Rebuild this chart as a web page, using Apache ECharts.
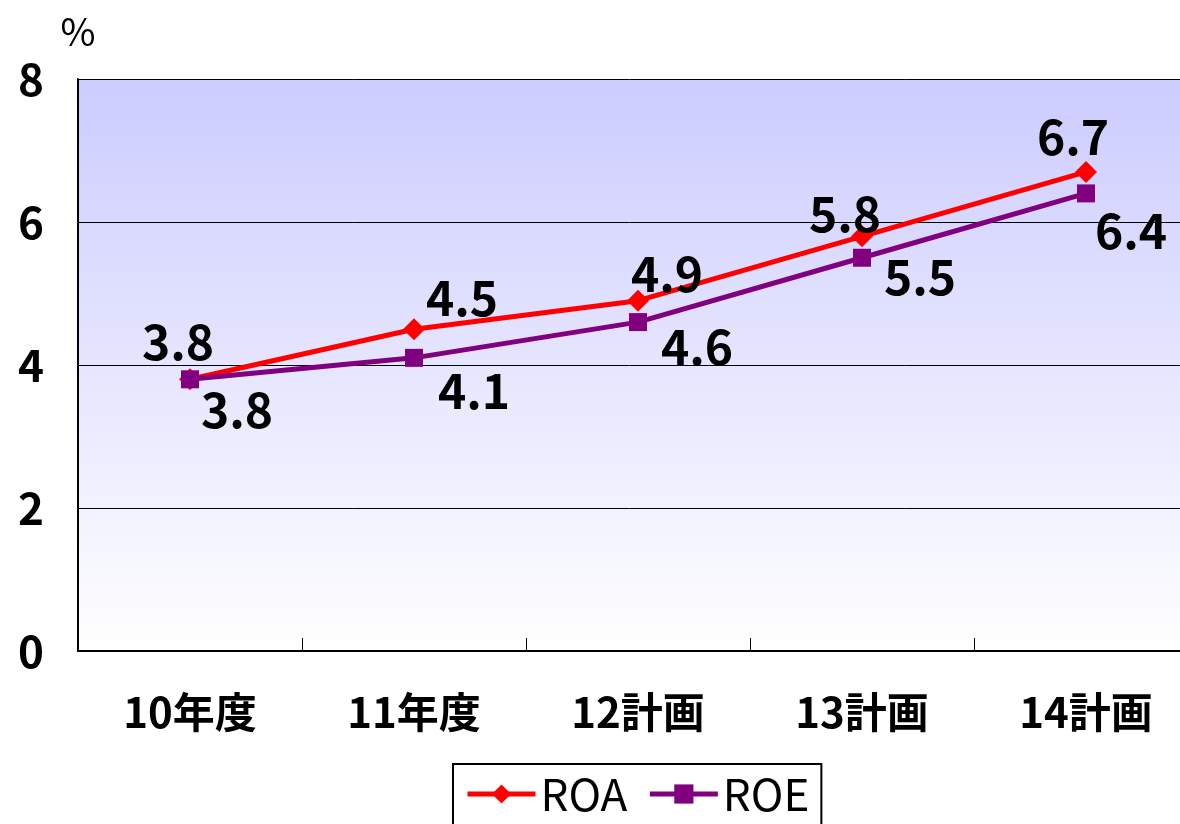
<!DOCTYPE html>
<html>
<head>
<meta charset="utf-8">
<script src="https://cdn.jsdelivr.net/npm/echarts@6/dist/echarts.min.js"></script>
<style>
  html, body { margin: 0; padding: 0; background: #fff; }
  #main { width: 1180px; height: 824px; }
</style>
</head>
<body>
<div id="main"></div>
<script>
var categories = ["10年度", "11年度", "12計画", "13計画", "14計画"];
var roa = [3.8, 4.5, 4.9, 5.8, 6.7];
var roe = [3.8, 4.1, 4.6, 5.5, 6.4];
var yTicks = [0, 2, 4, 6, 8];

// label nudges (px) so the numbers sit where the original put them
var roaOffsets = [[-12, -38], [48, -31], [29, -27], [-17, -23], [-13, -35]];
var roeOffsets = [[47, 30], [60, 33], [59, 25], [58, 19], [45, 37]];

var font = '"Noto Sans CJK JP", "Liberation Sans", sans-serif';

function withLabels(values, offsets) {
    return values.map(function (v, i) {
        return {
            value: v,
            label: { offset: offsets[i] }
        };
    });
}

var chart = echarts.init(document.getElementById('main'));
chart.setOption({
    animation: false,
    grid: {
        left: 78,
        top: 79,
        right: -18,
        bottom: 173,
        outerBoundsMode: 'none',
        containLabel: false,
        show: true,
        borderWidth: 0,
        backgroundColor: {
            type: 'linear', x: 0, y: 0, x2: 0, y2: 1,
            colorStops: [
                { offset: 0, color: '#ccccff' },
                { offset: 1, color: '#ffffff' }
            ]
        }
    },
    legend: {
        left: 453,
        top: 764,
        width: 372,
        itemWidth: 68,
        itemHeight: 24,
        itemGap: 20,
        padding: [8, 12, 30, 12],
        borderColor: '#000',
        borderWidth: 2,
        borderRadius: 0,
        backgroundColor: '#fff',
        lineStyle: { width: 5 },
        textStyle: { fontFamily: font, fontSize: 44, color: '#000' },
        data: ['ROA', 'ROE']
    },
    xAxis: {
        type: 'category',
        data: categories,
        boundaryGap: true,
        axisLine: { lineStyle: { color: '#000', width: 2 } },
        axisTick: { show: true, inside: true, length: 13, lineStyle: { color: '#000', width: 1 } },
        axisLabel: {
            fontFamily: font, fontSize: 42, fontWeight: 'bold', color: '#000', margin: 40
        }
    },
    yAxis: {
        type: 'value',
        min: yTicks[0],
        max: yTicks[yTicks.length - 1],
        interval: 2,
        name: '%',
        nameLocation: 'end',
        nameGap: 28,
        nameTextStyle: { fontFamily: font, fontSize: 38, color: '#000', align: 'center' },
        axisLine: { show: true, lineStyle: { color: '#000', width: 2 } },
        axisTick: { show: false },
        splitLine: { show: true, lineStyle: { color: '#000', width: 1 } },
        axisLabel: {
            fontFamily: font, fontSize: 44, fontWeight: 'bold', color: '#000', margin: 34
        }
    },
    series: [
        {
            name: 'ROA',
            type: 'line',
            data: withLabels(roa, roaOffsets),
            symbol: 'diamond',
            symbolSize: 22,
            lineStyle: { color: '#ff0000', width: 5 },
            itemStyle: { color: '#ff0000' },
            label: {
                show: true,
                position: 'inside',
                fontFamily: font, fontSize: 48, fontWeight: 'bold', color: '#000',
                formatter: function (p) { return p.value.toFixed(1); }
            },
            z: 3
        },
        {
            name: 'ROE',
            type: 'line',
            data: withLabels(roe, roeOffsets),
            symbol: 'rect',
            symbolSize: 18,
            lineStyle: { color: '#800080', width: 5 },
            itemStyle: { color: '#800080' },
            label: {
                show: true,
                position: 'inside',
                fontFamily: font, fontSize: 48, fontWeight: 'bold', color: '#000',
                formatter: function (p) { return p.value.toFixed(1); }
            },
            z: 4
        }
    ]
});
</script>
</body>
</html>
